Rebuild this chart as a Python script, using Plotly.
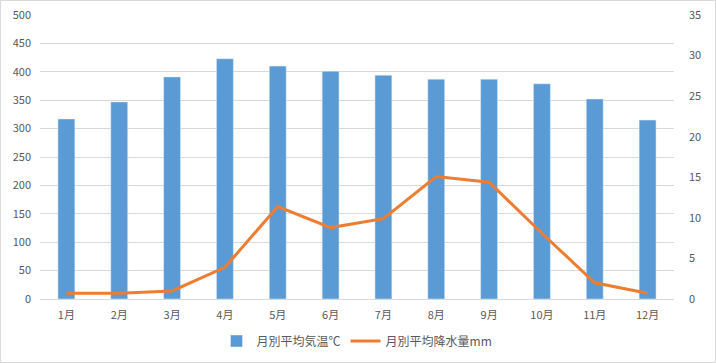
import plotly.graph_objects as go

months = ["1月", "2月", "3月", "4月", "5月", "6月", "7月", "8月", "9月", "10月", "11月", "12月"]
temp_vals = [317, 347, 391, 423, 410, 401, 394, 387, 387, 379, 352, 315]
rain_vals = [0.7, 0.7, 1.0, 3.9, 11.4, 8.8, 9.9, 15.1, 14.4, 8.1, 2.0, 0.7]
bar_name = "月別平均気温℃"
line_name = "月別平均降水量mm"

W, H = 716, 363
L, R, T, B = 40, 42, 15, 64
pw, ph = W - L - R, H - T - B

font = "Noto Sans CJK JP"
tick_color = "#595959"

fig = go.Figure()
fig.add_trace(go.Bar(x=months, y=temp_vals, name=bar_name, marker_color="#5B9BD5",
                     yaxis="y"))
fig.add_trace(go.Scatter(x=months, y=rain_vals, name=line_name, mode="lines",
                         line=dict(color="#ED7D31", width=3), yaxis="y2"))

def px_to_paper_x(px):
    return (px - L) / pw

def px_to_paper_y(py):
    return (H - B - py) / ph

fig.update_layout(
    width=W, height=H,
    margin=dict(l=L, r=R, t=T, b=B, pad=0, autoexpand=False),
    paper_bgcolor="white", plot_bgcolor="white",
    font=dict(family=font, size=11, color=tick_color),
    bargap=0.68,
    showlegend=True,
    legend=dict(orientation="h", x=0.5, xanchor="center", y=px_to_paper_y(341), yanchor="middle",
                font=dict(size=12, color=tick_color), traceorder="normal"),
    xaxis=dict(showgrid=False, showline=True, linecolor="#D9D9D9", linewidth=1, automargin=False,
               ticks="", tickfont=dict(size=11, color=tick_color), ticklabelstandoff=6),
    yaxis=dict(range=[0, 500], dtick=50, showgrid=True, gridcolor="#D9D9D9", gridwidth=1,
               automargin=False,
               zeroline=False, showline=False, ticks="", tickfont=dict(size=11, color=tick_color),
               ticklabelstandoff=8),
    yaxis2=dict(range=[0, 35], dtick=5, overlaying="y", side="right", showgrid=False,
                automargin=False,
                zeroline=False, showline=False, ticks="", tickfont=dict(size=11, color=tick_color),
                ticklabelstandoff=14),
    shapes=[dict(type="rect", xref="paper", yref="paper",
                 x0=px_to_paper_x(0.5), x1=px_to_paper_x(715.5),
                 y0=px_to_paper_y(362.5), y1=px_to_paper_y(0.5),
                 line=dict(color="#D9D9D9", width=1), layer="below")],
)

fig.write_html("out.html", config={"displayModeBar": False},
               post_script="document.body.style.margin='0';document.body.style.overflow='hidden';")
